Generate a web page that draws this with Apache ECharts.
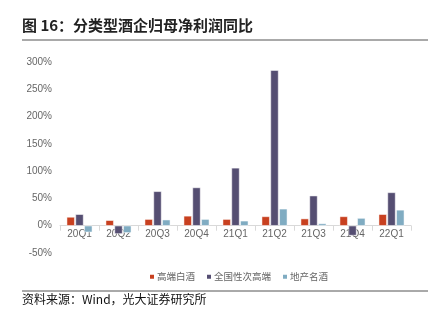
<!DOCTYPE html>
<html><head><meta charset="utf-8">
<script src="https://cdn.jsdelivr.net/npm/echarts@6/dist/echarts.min.js"></script>
<style>html,body{margin:0;padding:0;background:#fff;}#c{width:441px;height:326px;}</style>
</head><body><div id="c"></div>
<script>
const categories = ['20Q1','20Q2','20Q3','20Q4','21Q1','21Q2','21Q3','21Q4','22Q1'];
const highEnd = [16, 10, 12, 18, 12, 17, 13, 17, 21];
const subHigh = [21, -15, 63, 70, 106, 285, 55, -18, 61];
const regional = [-12, -13, 11, 12, 9, 31, 4, 14, 29];
const seriesNames = ['高端白酒','全国性次高端','地产名酒'];
const colors = ['#c8401f','#554e72','#80acc2'];
const titleText = '图 16：分类型酒企归母净利润同比';
const sourceText = '资料来源：Wind，光大证券研究所';

const chart = echarts.init(document.getElementById('c'));
const mk = (name, data, color) => ({
  name, type: 'bar', data, barWidth: 8, barGap: '10%',
  itemStyle: {color, borderColor: '#fff', borderWidth: 0.5}
});
chart.setOption({
  animation: false,
  graphic: [
    {type:'text', left: 22, top: 18, style:{text: titleText, font:'bold 15px "Noto Sans CJK SC"', fill:'#222'}},
    {type:'line', shape:{x1:22,y1:40,x2:428,y2:40}, style:{stroke:'#555', lineWidth:1}},
    {type:'line', shape:{x1:22,y1:291,x2:428,y2:291}, style:{stroke:'#555', lineWidth:1}},
    {type:'text', left: 22, top: 293, style:{text: sourceText, font:'12px "Noto Sans CJK SC"', fill:'#111'}}
  ],
  legend: {
    data: seriesNames, left: 143, top: 267, itemWidth: 6, itemHeight: 6, itemGap: 10,
    icon: 'rect',
    textStyle: {fontSize: 9.5, color:'#666', fontFamily:'"Noto Sans CJK SC"', padding:[0,0,0,-3]}
  },
  grid: {left: 60, right: 30, top: 62, bottom: 73},
  xAxis: {
    type:'category', data: categories, offset: -27.3,
    axisLine:{onZero:false, lineStyle:{color:'#d9d9d9'}},
    axisTick:{show:true, lineStyle:{color:'#d9d9d9'}},
    axisLabel:{color:'#666', fontSize:10, margin:4, fontFamily:'Liberation Sans'}
  },
  yAxis: {
    type:'value', min:-50, max:300, interval:50,
    axisLine:{show:false}, axisTick:{show:false}, splitLine:{show:false},
    axisLabel:{formatter:'{value}%', color:'#666', fontSize:10, margin:8, fontFamily:'Liberation Sans'}
  },
  series: [mk(seriesNames[0], highEnd, colors[0]), mk(seriesNames[1], subHigh, colors[1]), mk(seriesNames[2], regional, colors[2])]
});
</script></body></html>
